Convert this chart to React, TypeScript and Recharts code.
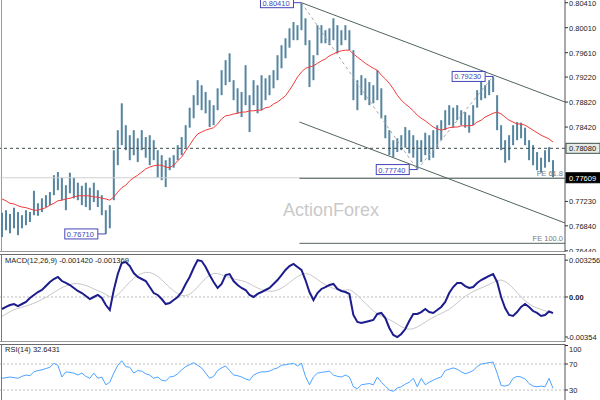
import {
  Bar,
  ComposedChart,
  Line,
  ReferenceDot,
  ReferenceLine,
  XAxis,
  YAxis,
} from "recharts";

// bar index domain (bars sit at i = 0..138, chart shifted a bit to the right)
const X_DOMAIN: [number, number] = [-0.5, 141];

const highs = [
  0.7705, 0.7709, 0.7703, 0.7713, 0.7706, 0.7701, 0.7709, 0.7706, 0.774, 0.772,
  0.7728, 0.7733, 0.7738, 0.7765, 0.777, 0.7761, 0.7749, 0.7769, 0.7761, 0.7753,
  0.7748, 0.7753, 0.7745, 0.7753, 0.7741, 0.7733, 0.7709, 0.7717, 0.7805, 0.7837,
  0.788, 0.7845, 0.7829, 0.7837, 0.7824, 0.7837, 0.7826, 0.7829, 0.7821, 0.7805,
  0.7797, 0.7789, 0.7793, 0.7797, 0.7813, 0.7826, 0.7845, 0.7873, 0.7893, 0.7917,
  0.7909, 0.7898, 0.7885, 0.7877, 0.7904, 0.7933, 0.7949, 0.796, 0.7917, 0.7904,
  0.7898, 0.7941, 0.7893, 0.7917, 0.7909, 0.7925, 0.792, 0.7925, 0.7933, 0.7957,
  0.7973, 0.7984, 0.8, 0.801, 0.8005, 0.8041, 0.8016, 0.7981, 0.7957, 0.8005,
  0.8005, 0.7997, 0.8, 0.8016, 0.8005, 0.7997, 0.8005, 0.7997, 0.7965, 0.7917,
  0.7925, 0.792, 0.7914, 0.7909, 0.7933, 0.7904, 0.7861, 0.7837, 0.7821, 0.7824,
  0.7829, 0.7842, 0.7837, 0.7829, 0.7821, 0.7821, 0.7833, 0.7829, 0.7837, 0.7845,
  0.7853, 0.7869, 0.7877, 0.7873, 0.7877, 0.7869, 0.7866, 0.7861, 0.7877, 0.7901,
  0.7917, 0.7909, 0.7917, 0.7923, 0.7893, 0.7845, 0.7821, 0.7829, 0.7845, 0.785,
  0.7849, 0.7841, 0.7821, 0.7813, 0.7802, 0.7793, 0.7805, 0.781, 0.7789,
];

const lows = [
  0.7666, 0.7677, 0.7672, 0.768, 0.7669, 0.768, 0.7685, 0.769, 0.7701, 0.77,
  0.7706, 0.7714, 0.7717, 0.7733, 0.7741, 0.7725, 0.7709, 0.7736, 0.7728, 0.7725,
  0.7717, 0.7714, 0.7709, 0.7722, 0.7714, 0.7701, 0.7671, 0.768, 0.7725, 0.7781,
  0.7813, 0.7805, 0.7789, 0.7797, 0.7786, 0.7805, 0.7793, 0.7781, 0.7789, 0.7761,
  0.7757, 0.7746, 0.7773, 0.7777, 0.7789, 0.7797, 0.7809, 0.7841, 0.7856, 0.7877,
  0.7869, 0.7864, 0.7842, 0.7845, 0.7869, 0.7893, 0.7909, 0.7914, 0.7885, 0.7864,
  0.7858, 0.7877, 0.7834, 0.7877, 0.7864, 0.7869, 0.7885, 0.7893, 0.7904, 0.7917,
  0.7936, 0.7952, 0.7969, 0.7981, 0.7981, 0.7997, 0.7973, 0.7906, 0.7917, 0.7957,
  0.7976, 0.7976, 0.7973, 0.7981, 0.796, 0.7973, 0.7981, 0.7965, 0.7885, 0.7869,
  0.7893, 0.7885, 0.7877, 0.788, 0.7885, 0.7856, 0.7824, 0.7797, 0.7794, 0.7802,
  0.7805, 0.7809, 0.78, 0.7793, 0.7774, 0.7786, 0.7797, 0.7789, 0.7793, 0.7809,
  0.7821, 0.7837, 0.7845, 0.7841, 0.7853, 0.7845, 0.7841, 0.7833, 0.7845, 0.7873,
  0.7885, 0.7888, 0.7893, 0.7898, 0.7837, 0.7805, 0.7785, 0.7789, 0.7813, 0.7821,
  0.7824, 0.7813, 0.7789, 0.7781, 0.7773, 0.7769, 0.7777, 0.7786, 0.7761,
];

// red moving average
const maLine = [
  0.7727, 0.7724, 0.772, 0.7719, 0.7716, 0.7714, 0.7713, 0.7711, 0.7709, 0.7709,
  0.7711, 0.7713, 0.7717, 0.772, 0.7724, 0.7725, 0.7727, 0.7728, 0.773, 0.7732,
  0.7732, 0.7732, 0.7732, 0.773, 0.773, 0.7728, 0.7727, 0.7725, 0.773, 0.7738,
  0.7745, 0.7749, 0.7756, 0.7761, 0.7765, 0.777, 0.7775, 0.7778, 0.778, 0.7781,
  0.7781, 0.7778, 0.7777, 0.7781, 0.7788, 0.7794, 0.7804, 0.7813, 0.7823, 0.7831,
  0.7834, 0.7837, 0.7839, 0.7841, 0.7847, 0.7855, 0.786, 0.7861, 0.7863, 0.7864,
  0.7866, 0.7866, 0.7868, 0.7868, 0.7869, 0.7869, 0.7873, 0.7874, 0.7879, 0.7882,
  0.7887, 0.7892, 0.7901, 0.7911, 0.7922, 0.793, 0.7936, 0.7938, 0.794, 0.7944,
  0.7948, 0.7951, 0.7956, 0.7959, 0.7962, 0.7964, 0.7965, 0.7965, 0.7959, 0.7954,
  0.7949, 0.7944, 0.794, 0.7936, 0.7933, 0.7925, 0.7919, 0.7912, 0.7903, 0.7893,
  0.7885, 0.7879, 0.7874, 0.7868, 0.7861, 0.7856, 0.7852, 0.7847, 0.7842, 0.7839,
  0.7837, 0.7839, 0.7841, 0.7842, 0.7842, 0.7844, 0.7844, 0.7844, 0.7845, 0.785,
  0.7853, 0.7858, 0.7861, 0.7864, 0.7866, 0.7863, 0.7858, 0.7853, 0.785, 0.7847,
  0.7847, 0.7845, 0.7841, 0.7837, 0.7833, 0.7829, 0.7826, 0.7823, 0.7818,
];

const macdMain = [
  -0.00106, -0.00088, -0.00071, -0.00062, -0.0008, -0.00062, -0.00044, -0.00009, 0.00018, 0.00044,
  0.00062, 0.00097, 0.00133, 0.00159, 0.00177, 0.00141, 0.00124, 0.00106, 0.0008, 0.00053,
  0.00035, 0.00009, -0.00018, 0, 0.00018, -0.00009, -0.00071, -0.00115, 0.00062, 0.00203,
  0.00301, 0.00309, 0.00274, 0.00212, 0.00177, 0.00159, 0.00141, 0.00088, 0.00035, 0.00018,
  -0.00018, -0.00062, -0.00053, -0.00027, 0, 0.00044, 0.00115, 0.00177, 0.00256, 0.003256,
  0.00318, 0.00265, 0.00194, 0.00133, 0.0008, 0.00115, 0.00194, 0.00203, 0.00141, 0.00106,
  0.0008, 0.00062, 0.00018, 0, 0.00027, 0.00044, 0.00062, 0.0008, 0.00115, 0.0015,
  0.00194, 0.00239, 0.00274, 0.00292, 0.00265, 0.00239, 0.0015, 0.00044, -0.00027, 0.00035,
  0.00071, 0.00088, 0.00106, 0.00115, 0.00071, 0.00053, 0.00044, 0.00027, -0.00159, -0.00221,
  -0.0023, -0.00221, -0.00212, -0.00203, -0.0015, -0.00141, -0.00186, -0.00274, -0.00336, -0.00354,
  -0.00327, -0.00283, -0.00212, -0.0015, -0.0015, -0.00133, -0.00106, -0.00133, -0.00141, -0.00115,
  -0.00088, -0.00044, 0.00035, 0.00088, 0.00124, 0.00124, 0.00097, 0.0008, 0.00088, 0.00124,
  0.0015, 0.00168, 0.00186, 0.00203, 0.00133, 0, -0.00097, -0.00159, -0.00168, -0.00133,
  -0.00088, -0.00062, -0.00088, -0.00124, -0.00141, -0.00168, -0.00159, -0.00128, -0.00142,
];

const macdSignal = [
  -0.0017, -0.0015, -0.0013, -0.00112, -0.001, -0.0009, -0.0008, -0.00068, -0.00055, -0.0004,
  -0.00022, -0.00003, 0.00018, 0.0004, 0.00062, 0.00082, 0.00098, 0.0011, 0.00118, 0.00118,
  0.00112, 0.00102, 0.00088, 0.00072, 0.00056, 0.0004, 0.00022, 0.00002, -0.00003, 0.0002,
  0.00055, 0.00095, 0.00132, 0.00165, 0.0019, 0.00208, 0.00218, 0.00216, 0.00204, 0.00182,
  0.00152, 0.00118, 0.00084, 0.00055, 0.0003, 0.00013, 0.0001, 0.00025, 0.00052, 0.00088,
  0.00128, 0.00165, 0.00192, 0.00208, 0.00208, 0.00195, 0.00182, 0.0017, 0.0016, 0.00152,
  0.00145, 0.00134, 0.00118, 0.00098, 0.0008, 0.00066, 0.00055, 0.0005, 0.00052, 0.00062,
  0.00078, 0.001, 0.00128, 0.00155, 0.0018, 0.00198, 0.00208, 0.002, 0.0018, 0.00155,
  0.0013, 0.00108, 0.0009, 0.00075, 0.00066, 0.0006, 0.0006, 0.00065, 0.00045, 0.00015,
  -0.0002, -0.00055, -0.0009, -0.00122, -0.00148, -0.00168, -0.00185, -0.002, -0.00218, -0.0024,
  -0.00262, -0.00278, -0.00285, -0.0028, -0.00265, -0.00245, -0.00222, -0.002, -0.0018, -0.00162,
  -0.00145, -0.00128, -0.00108, -0.00082, -0.00052, -0.00022, 0.00005, 0.00028, 0.00048, 0.00065,
  0.0008, 0.00095, 0.0011, 0.00128, 0.00145, 0.0015, 0.00138, 0.00112, 0.00078, 0.0004,
  0.00002, -0.00032, -0.0006, -0.00082, -0.00098, -0.0011, -0.00122, -0.0013, -0.00137,
];

const rsi14 = [
  48, 49, 50, 49, 48, 51, 53, 52, 58, 60,
  61, 63, 65, 71, 68, 50, 58, 57, 56, 53,
  56, 51, 48, 56, 48, 50, 38, 42, 56, 68,
  75, 66, 65, 56, 60, 59, 55, 53, 48, 50,
  45, 44, 50, 51, 55, 61, 66, 69, 72, 68,
  64, 56, 48, 51, 60, 64, 67, 60, 53, 52,
  50, 47, 45, 53, 56, 58, 58, 59, 62, 64,
  68, 69, 70, 71, 67, 71, 51, 38, 50, 56,
  57, 58, 59, 53, 51, 50, 53, 50, 35, 32,
  38, 39, 40, 38, 50, 42, 36, 30, 28, 33,
  35, 39, 42, 48, 35, 48, 38, 42, 45, 48,
  50, 60, 62, 64, 62, 58, 55, 57, 60, 66,
  70, 71, 72, 73, 56, 37, 36, 38, 48, 51,
  50, 47, 40, 36, 35, 36, 35, 48, 32.6431,
];

const priceTicks = [0.8041, 0.8001, 0.7961, 0.7922, 0.7882, 0.7842, 0.7723, 0.7684, 0.7644];
const macdTicks = [0.003256, 0, -0.00354];
const rsiTicks = [70, 30];

const lastPrice = 0.77609;
const pivotLevel = 0.7808;
const fe618 = 0.776;
const fe100 = 0.7656;

// swing points that carry a price tag: [bar index, price, text]
const swingTags: [number, number, string][] = [
  [75, 0.8041, "0.80410"],
  [26, 0.7671, "0.76710"],
  [104, 0.7774, "0.77740"],
  [123, 0.7923, "0.79230"],
];

const priceRows = highs.map((h, i) => ({ i, range: [lows[i], h], ma: maLine[i] }));
const macdRows = macdMain.map((m, i) => ({ i, macd: m, signal: macdSignal[i] }));
const rsiRows = rsi14.map((r, i) => ({ i, rsi: r }));

const FONT = "'Liberation Sans', Arial, sans-serif";
const AXIS_W = 35;
const CHANNEL = "#51655f";

function priceTick(p: any) {
  const v = p.payload.value;
  return (
    <text x={p.x} y={p.y + 3} fontSize={7.5} fontFamily={FONT} fill="#222">
      {v.toFixed(5)}
    </text>
  );
}

function macdTick(p: any) {
  const v = p.payload.value;
  return (
    <text
      x={p.x - (v < 0 ? 2 : 0)}
      y={p.y + 3}
      fontSize={7.5}
      fontFamily={FONT}
      fontWeight={v === 0 ? 700 : 400}
      fill="#222"
    >
      {v === 0 ? "0.00" : String(v)}
    </text>
  );
}

function rsiTick(p: any) {
  return (
    <text x={p.x} y={p.y + 3} fontSize={7.5} fontFamily={FONT} fill="#222">
      {p.payload.value}
    </text>
  );
}

function axisBox(text: string, fill: string, stroke: string, color: string) {
  return (p: any) => (
    <g>
      <rect x={566} y={p.cy - 5} width={34} height={10} fill={fill} stroke={stroke} />
      <text x={569} y={p.cy + 3} fontSize={7.5} fontFamily={FONT} fill={color}>
        {text}
      </text>
    </g>
  );
}

function swingTag(text: string) {
  return (p: any) => (
    <g>
      <line x1={p.cx - 8} x2={p.cx} y1={p.cy} y2={p.cy} stroke="#4646b8" />
      <rect x={p.cx - 41} y={p.cy - 5} width={33} height={10} fill="#fff" stroke="#4646b8" />
      <text x={p.cx - 39} y={p.cy + 3} fontSize={7.5} fontFamily={FONT} fill="#4646b8">
        {text}
      </text>
    </g>
  );
}

function feText(text: string) {
  return (p: any) => (
    <text x={p.cx - 2} y={p.cy - 2} textAnchor="end" fontSize={7.5} fontFamily={FONT} fill="#7a7a7a">
      {text}
    </text>
  );
}

export default function App() {
  return (
    <div
      style={{
        position: "fixed",
        left: 0,
        top: 0,
        width: 600,
        height: 400,
        background: "#fff",
        overflow: "hidden",
      }}
    >
      <svg width={600} height={400} style={{ position: "absolute", left: 0, top: 0 }}>
        <text x={283} y={216} fontSize={18} fontFamily={FONT} fill="#c9c9c9">
          ActionForex
        </text>
        <line x1={1.5} x2={1.5} y1={0} y2={251} stroke="#999" />
        <line x1={0} x2={565} y1={251.5} y2={251.5} stroke="#9a9a9a" />
        <line x1={0} x2={565} y1={254.5} y2={254.5} stroke="#6a6a6a" />
        <line x1={1.5} x2={1.5} y1={254} y2={341} stroke="#777" />
        <line x1={0} x2={565} y1={341.5} y2={341.5} stroke="#9a9a9a" />
        <line x1={0} x2={565} y1={344.5} y2={344.5} stroke="#6a6a6a" />
        <line x1={1.5} x2={1.5} y1={344} y2={400} stroke="#777" />
      </svg>

      <div style={{ position: "absolute", left: 0, top: 0 }}>
        <ComposedChart width={600} height={252} data={priceRows} margin={{ top: 0, right: 0, bottom: 0, left: 0 }}>
          <XAxis dataKey="i" type="number" domain={X_DOMAIN} allowDataOverflow hide />
          <YAxis
            orientation="right"
            width={AXIS_W}
            domain={[0.76421, 0.80453]}
            allowDataOverflow
            ticks={priceTicks}
            interval={0}
            tick={priceTick}
            tickSize={3}
            tickMargin={1}
            tickLine={{ stroke: "#333" }}
            axisLine={{ stroke: "#555" }}
          />
          <ReferenceLine y={lastPrice} stroke="#cfcfcf" />
          <ReferenceLine y={pivotLevel} stroke="#3e4a46" strokeDasharray="3 3" />
          <ReferenceLine segment={[{ x: 74.5, y: fe618 }, { x: 141, y: fe618 }]} stroke={CHANNEL} />
          <ReferenceLine segment={[{ x: 74.5, y: fe100 }, { x: 141, y: fe100 }]} stroke={CHANNEL} />
          <ReferenceLine segment={[{ x: 75, y: 0.8041 }, { x: 141, y: 0.78821 }]} stroke={CHANNEL} />
          <ReferenceLine segment={[{ x: 74.5, y: 0.78501 }, { x: 141, y: 0.76885 }]} stroke={CHANNEL} />
          <ReferenceLine segment={[{ x: 75, y: 0.8041 }, { x: 104, y: 0.7774 }]} stroke="#a8a8a8" strokeDasharray="3 3" />
          <ReferenceLine segment={[{ x: 104, y: 0.7774 }, { x: 123, y: 0.7923 }]} stroke="#a8a8a8" strokeDasharray="3 3" />
          <Bar dataKey="range" barSize={2} fill="#5585a0" isAnimationActive={false} />
          <Line
            dataKey="ma"
            type="linear"
            stroke="#f03c3c"
            strokeWidth={1}
            dot={false}
            activeDot={false}
            isAnimationActive={false}
          />
          <ReferenceDot x={141} y={fe618} r={0} shape={feText("FE 61.8")} />
          <ReferenceDot x={141} y={fe100} r={0} shape={feText("FE 100.0")} />
          {swingTags.map(([i, v, t]) => (
            <ReferenceDot key={t} x={i} y={v} r={0} shape={swingTag(t)} />
          ))}
          <ReferenceDot x={141} y={pivotLevel} r={0} shape={axisBox("0.78080", "#e6ebe7", "#3e514b", "#111")} />
          <ReferenceDot x={141} y={lastPrice} r={0} shape={axisBox("0.77609", "#000", "#000", "#fff")} />
        </ComposedChart>
      </div>

      <div style={{ position: "absolute", left: 0, top: 254 }}>
        <ComposedChart width={600} height={88} data={macdRows} margin={{ top: 0, right: 0, bottom: 0, left: 0 }}>
          <XAxis dataKey="i" type="number" domain={X_DOMAIN} allowDataOverflow hide />
          <YAxis
            orientation="right"
            width={AXIS_W}
            domain={[-0.003978, 0.003801]}
            allowDataOverflow
            ticks={macdTicks}
            interval={0}
            tick={macdTick}
            tickSize={3}
            tickMargin={1}
            tickLine={{ stroke: "#333" }}
            axisLine={{ stroke: "#555" }}
          />
          <ReferenceLine y={0} stroke="#bdbdbd" strokeDasharray="2 2" />
          <Line dataKey="signal" type="linear" stroke="#c8c8c8" strokeWidth={1} dot={false} activeDot={false} isAnimationActive={false} />
          <Line dataKey="macd" type="linear" stroke="#1c1c8c" strokeWidth={2} dot={false} activeDot={false} isAnimationActive={false} />
        </ComposedChart>
      </div>

      <div style={{ position: "absolute", left: 0, top: 344 }}>
        <ComposedChart width={600} height={56} data={rsiRows} margin={{ top: 0, right: 0, bottom: 0, left: 0 }}>
          <XAxis dataKey="i" type="number" domain={X_DOMAIN} allowDataOverflow hide />
          <YAxis
            orientation="right"
            width={AXIS_W}
            domain={[14.62, 100.77]}
            allowDataOverflow
            ticks={rsiTicks}
            interval={0}
            tick={rsiTick}
            tickSize={3}
            tickMargin={1}
            tickLine={{ stroke: "#333" }}
            axisLine={{ stroke: "#555" }}
          />
          <ReferenceLine y={70} stroke="#bdbdbd" strokeDasharray="2 2" />
          <ReferenceLine y={30} stroke="#bdbdbd" strokeDasharray="2 2" />
          <Line dataKey="rsi" type="linear" stroke="#4da3ff" strokeWidth={1} dot={false} activeDot={false} isAnimationActive={false} />
        </ComposedChart>
      </div>

      <svg width={600} height={400} style={{ position: "absolute", left: 0, top: 0, pointerEvents: "none" }}>
        <text x={5} y={263} fontSize={7.5} fontFamily={FONT} fill="#222">
          MACD(12,26,9) -0.001420 -0.001369
        </text>
        <text x={5} y={352} fontSize={7.5} fontFamily={FONT} fill="#222">
          RSI(14) 32.6431
        </text>
        <line x1={565} x2={568} y1={345.5} y2={345.5} stroke="#333" />
        <text x={569} y={352} fontSize={7.5} fontFamily={FONT} fill="#222">
          100
        </text>
      </svg>
    </div>
  );
}
